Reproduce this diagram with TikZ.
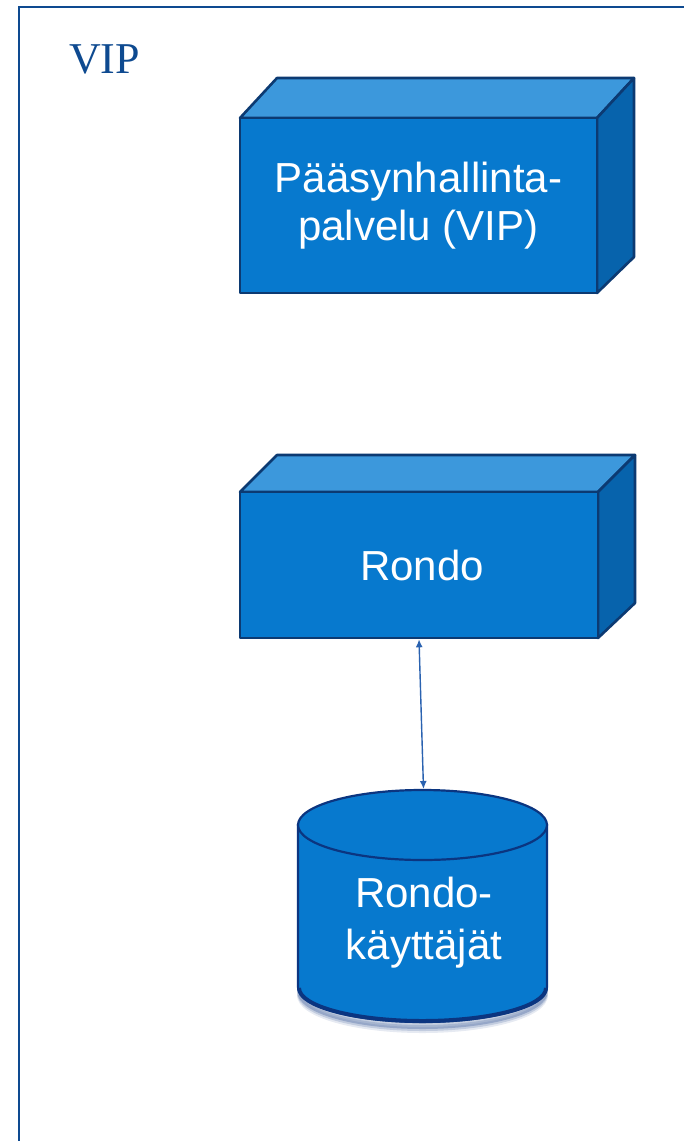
\documentclass[tikz,border=0pt]{standalone}
\usepackage{fontspec}
\setmainfont{Liberation Sans}
\newfontfamily\serifvip{Liberation Serif}
\usetikzlibrary{arrows.meta}
\definecolor{frameblue}{HTML}{0E4A90}
\definecolor{frontblue}{HTML}{0779CE}
\definecolor{topblue}{HTML}{3C98DC}
\definecolor{sideblue}{HTML}{0763AC}
\definecolor{edgenavy}{HTML}{0C3A72}
\definecolor{cylnavy}{HTML}{0B3580}
\definecolor{arrowblue}{HTML}{2A62B0}
\tikzset{
  x=1pt, y=-1pt,
  facefront/.style={draw=edgenavy, fill=frontblue, line width=2.6pt, line join=round,
    text=white, inner sep=0pt, align=center},
  facetop/.style={draw=edgenavy, fill=topblue, line width=2.6pt, line join=round},
  faceside/.style={draw=edgenavy, fill=sideblue, line width=2.6pt, line join=round},
  boxtext/.style={font=\fontsize{42}{48}\selectfont},
  dbtext/.style={font=\fontsize{42}{52}\selectfont, text=white, align=center, inner sep=0pt},
  link/.style={draw=arrowblue, line width=1.4pt, {Latex[length=8pt,width=7pt]}-{Latex[length=8pt,width=7pt]}},
}
\begin{document}
\begin{tikzpicture}
\useasboundingbox (0,0) rectangle (684,1141);
\fill[white] (0,0) rectangle (684,1141);
% frame (open to the right and bottom)
\draw[frameblue, line width=2pt] (690,7) -- (19,7) -- (19,1150);
\node[anchor=base west, inner sep=0pt, text=frameblue,
  font=\serifvip\fontsize{44}{48}\selectfont] (title) at (69,73) {VIP};

% ---- box 1: Paasynhallintapalvelu
\path[facetop] (240,118) -- (277,78) -- (634,78) -- (597,118) -- cycle;
\path[faceside] (597,118) -- (634,78) -- (634,257) -- (597,293) -- cycle;
\node[facefront, boxtext, minimum width=357pt, minimum height=175pt] (vip) at (418.5,205.5)
  {Pääsynhallinta-\\palvelu (VIP)};

% ---- box 2: Rondo
\path[facetop] (240,492) -- (277,455) -- (635,455) -- (598,492) -- cycle;
\path[faceside] (598,492) -- (635,455) -- (635,603) -- (598,638) -- cycle;
\node[facefront, boxtext, minimum width=358pt, minimum height=146pt] (rondo) at (419,565)
  {\hspace*{6pt}Rondo};

% ---- cylinder: Rondo-kayttajat
\foreach \o/\a in {8/0.10,6/0.16,4/0.24}{
  \draw[cylnavy, opacity=\a, line width=6pt] (300,987+\o) arc[start angle=180, end angle=0, x radius=122.5, y radius=35];
}
\path[draw=cylnavy, fill=frontblue, line width=2.2pt]
  (298,825) -- (298,987) arc[start angle=180, end angle=0, x radius=124.5, y radius=35]
  -- (547,825) -- cycle;
\draw[cylnavy, line width=4pt] (299,988) arc[start angle=180, end angle=0, x radius=123.5, y radius=33];
\path[draw=cylnavy, fill=frontblue, line width=2.2pt] (422.5,825) ellipse[x radius=124.5, y radius=35];
\coordinate (dbtop) at (423.5,789);
\node[dbtext] (db) at (424,923) {Rondo-\\käyttäjät};

% ---- connector
\draw[link] (rondo.south) -- (dbtop);
\end{tikzpicture}
\end{document}
